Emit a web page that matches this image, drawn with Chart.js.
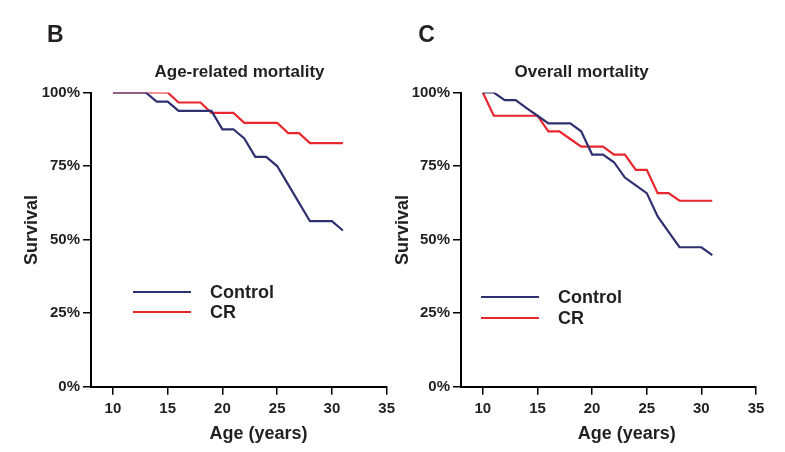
<!DOCTYPE html>
<html>
<head>
<meta charset="utf-8">
<script src="https://cdn.jsdelivr.net/npm/chart.js@4"></script>
<style>
  body { margin: 0; background: #fff; }
  #wrap { position: relative; width: 785px; height: 452px; overflow: hidden; }
  .panel { position: absolute; top: 0; width: 400px; height: 452px; }
</style>
</head>
<body>
<div id="wrap">
  <div class="panel" style="left:0"><canvas id="chartB"></canvas></div>
  <div class="panel" style="left:385px"><canvas id="chartC"></canvas></div>
</div>
<script>
// ages on the x axis (years)
const ages = [10, 11, 12, 13, 14, 15, 16, 17, 18, 19, 20, 21, 22, 23, 24, 25, 26, 27, 28, 29, 30, 31];

// B: age-related mortality, survival %
const ageRelatedControl = [100, 100, 100, 100, 96.9, 96.9, 93.75, 93.75, 93.75, 93.75, 87.5, 87.5, 84.4, 78.1, 78.1, 75, 68.75, 62.5, 56.25, 56.25, 56.25, 53.1];
const ageRelatedCR = [100, 100, 100, 100, 100, 100, 96.6, 96.6, 96.6, 93.1, 93.1, 93.1, 89.7, 89.7, 89.7, 89.7, 86.2, 86.2, 82.8, 82.8, 82.8, 82.8];

// C: overall mortality, survival %
const overallControl = [100, 100, 97.4, 97.4, 94.7, 92.1, 89.5, 89.5, 89.5, 86.8, 78.9, 78.9, 76.3, 71.1, 68.4, 65.8, 57.9, 52.6, 47.4, 47.4, 47.4, 44.7];
const overallCR = [100, 92.1, 92.1, 92.1, 92.1, 92.1, 86.8, 86.8, 84.2, 81.6, 81.6, 81.6, 78.9, 78.9, 73.7, 73.7, 65.8, 65.8, 63.2, 63.2, 63.2, 63.2];

const seriesNames = ['Control', 'CR'];
const survivalTicks = [0, 25, 50, 75, 100];
const ageTicks = [10, 15, 20, 25, 30, 35];

const BLUE = '#2e3070';
const RED = '#e8262d';
const INK = '#231f20';
const FONT = '"Liberation Sans", Arial, Helvetica, sans-serif';

function points(values) {
    return ages.map((a, i) => ({ x: a, y: values[i] }));
}

// panel letter, title, axis titles and legend drawn on top
const panelText = {
    id: 'panelText',
    afterDraw(chart, args, opts) {
        const { ctx } = chart;
        ctx.save();
        ctx.fillStyle = INK;
        ctx.textBaseline = 'alphabetic';

        ctx.font = 'bold 23px ' + FONT;
        ctx.textAlign = 'left';
        ctx.fillText(opts.letter, opts.letterX, 42);

        ctx.font = 'bold 17px ' + FONT;
        ctx.textAlign = 'center';
        ctx.fillText(opts.title, opts.titleX, 77);

        ctx.font = 'bold 18px ' + FONT;
        ctx.fillText('Age (years)', opts.xTitleX, 439);

        ctx.save();
        ctx.translate(opts.yTitleX, 230);
        ctx.rotate(-Math.PI / 2);
        ctx.fillText('Survival', 0, 0);
        ctx.restore();

        // legend
        ctx.font = 'bold 18px ' + FONT;
        ctx.textAlign = 'left';
        chart.data.datasets.forEach((ds, i) => {
            const y = opts.legendY[i];
            ctx.strokeStyle = ds.borderColor;
            ctx.lineWidth = 2;
            ctx.beginPath();
            ctx.moveTo(opts.legendX, y);
            ctx.lineTo(opts.legendX + 58, y);
            ctx.stroke();
            ctx.fillStyle = INK;
            ctx.fillText(ds.label, opts.legendX + 77, y + 6);
        });
        ctx.restore();
    }
};

function makeChart(id, control, cr, yAxisWidth, rightPad, textOpts) {
    return new Chart(document.getElementById(id), {
        type: 'line',
        data: {
            datasets: [
                { label: seriesNames[0], data: points(control), borderColor: BLUE, borderWidth: 2.2, pointRadius: 0, tension: 0 },
                { label: seriesNames[1], data: points(cr), borderColor: RED, borderWidth: 2.2, pointRadius: 0, tension: 0 }
            ]
        },
        options: {
            responsive: true,
            maintainAspectRatio: false,
            animation: false,
            events: [],
            layout: { padding: { left: 0, right: rightPad, top: 92.5, bottom: 0 } },
            plugins: {
                legend: { display: false },
                tooltip: { enabled: false },
                panelText: textOpts
            },
            scales: {
                x: {
                    type: 'linear',
                    min: 8,
                    max: 35,
                    afterBuildTicks(scale) {
                        scale.ticks = ageTicks.map(v => ({ value: v }));
                    },
                    afterFit(scale) { scale.height = 65.3; },
                    border: { display: true, color: '#000', width: 2 },
                    grid: { drawOnChartArea: false, drawTicks: true, tickLength: 8, color: '#000', lineWidth: 1.5 },
                    ticks: { color: INK, font: { family: FONT, size: 15, weight: 'bold' }, padding: 5, maxRotation: 0 }
                },
                y: {
                    min: 0,
                    max: 100,
                    afterBuildTicks(scale) {
                        scale.ticks = survivalTicks.map(v => ({ value: v }));
                    },
                    afterFit(scale) { scale.width = yAxisWidth; },
                    border: { display: true, color: '#000', width: 2 },
                    grid: { drawOnChartArea: false, drawTicks: true, tickLength: 8, color: '#000', lineWidth: 1.5 },
                    ticks: { color: INK, font: { family: FONT, size: 15, weight: 'bold' }, padding: 3, callback: v => v + '%' }
                }
            }
        },
        plugins: [panelText]
    });
}

makeChart('chartB', ageRelatedControl, ageRelatedCR, 91, 13.3, {
    letter: 'B', letterX: 47, title: 'Age-related mortality', titleX: 239.5,
    xTitleX: 258.5, yTitleX: 36.5, legendX: 133, legendY: [292, 312]
});

makeChart('chartC', overallControl, overallCR, 76, 29, {
    letter: 'C', letterX: 33.3, title: 'Overall mortality', titleX: 196.7,
    xTitleX: 241.7, yTitleX: 23, legendX: 96, legendY: [297, 318]
});
</script>
</body>
</html>
